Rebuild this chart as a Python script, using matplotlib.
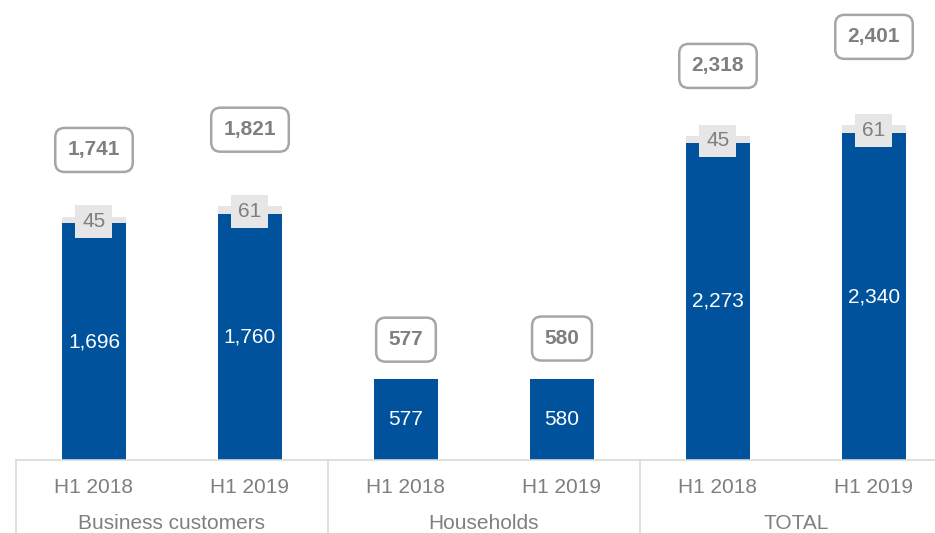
import numpy as np
import matplotlib

matplotlib.use("Agg")
import matplotlib.pyplot as plt

# ======================================================
# Data
# ======================================================
groups = ["Business customers", "Households", "TOTAL"]
periods = ["H1 2018", "H1 2019", "H1 2018", "H1 2019", "H1 2018", "H1 2019"]
base_values = [1696, 1760, 577, 580, 2273, 2340]
extra_values = [45, 61, 0, 0, 45, 61]
totals = [1741, 1821, 577, 580, 2318, 2401]

# layout: how far above the bar the total box sits (data units)
box_offset = [480, 545, 285, 290, 505, 630]

BLUE = "#00529C"
LIGHT = "#E6E6E6"
TEXT = "#7F7F7F"
EDGE = "#A6A6A6"
LINE = "#D9D9D9"

plt.rcParams["font.family"] = ["Liberation Sans", "DejaVu Sans"]

fig = plt.figure(figsize=(9.35, 5.33), dpi=100)
W, H = 935, 533
left_px, base_px, step_px = 16, 460, 156
ax = fig.add_axes([left_px / W, (H - base_px) / H, 6 * step_px / W, base_px / H])

x = np.arange(len(periods))
ax.bar(x, base_values, width=0.41, color=BLUE, zorder=2)
ax.bar(x, extra_values, width=0.41, bottom=base_values, color=LIGHT, zorder=2)

ax.set_xlim(-0.5, 5.5)
ax.set_ylim(0, base_px / 0.1396)

for i in range(len(periods)):
    ax.text(x[i], base_values[i] / 2, f"{base_values[i]:,}", ha="center", va="center",
            color="white", fontsize=15, zorder=3)
    if extra_values[i] > 0:
        ax.text(x[i], base_values[i] + extra_values[i] / 2 - 10, f"{extra_values[i]}",
                ha="center", va="center", color=TEXT, fontsize=15, zorder=3,
                bbox=dict(boxstyle="square,pad=0.33", fc=LIGHT, ec="none"))
    ax.text(x[i], totals[i] + box_offset[i], f"{totals[i]:,}", ha="center", va="center",
            color=TEXT, fontsize=15, fontweight="bold", zorder=3,
            bbox=dict(boxstyle="round,pad=0.6,rounding_size=0.45", fc="white",
                      ec=EDGE, lw=1.8))

for s in ["top", "right", "left"]:
    ax.spines[s].set_visible(False)
ax.spines["bottom"].set_color(LINE)
ax.spines["bottom"].set_linewidth(1.2)
ax.set_yticks([])
ax.set_xticks([])

# category labels below the axis
for i, p in enumerate(periods):
    ax.annotate(p, xy=(x[i], 0), xycoords="data", xytext=(0, -20),
                textcoords="offset points", ha="center", va="center",
                color=TEXT, fontsize=15, annotation_clip=False)
for g, name in enumerate(groups):
    ax.annotate(name, xy=(2 * g + 0.5, 0), xycoords="data", xytext=(0, -46),
                textcoords="offset points", ha="center", va="center",
                color=TEXT, fontsize=15, annotation_clip=False)

# group separators
for b in [-0.5, 1.5, 3.5, 5.5]:
    ax.plot([b, b], [0, -520], color=LINE, lw=1.2, clip_on=False)

fig.savefig("out.png", dpi=100)
